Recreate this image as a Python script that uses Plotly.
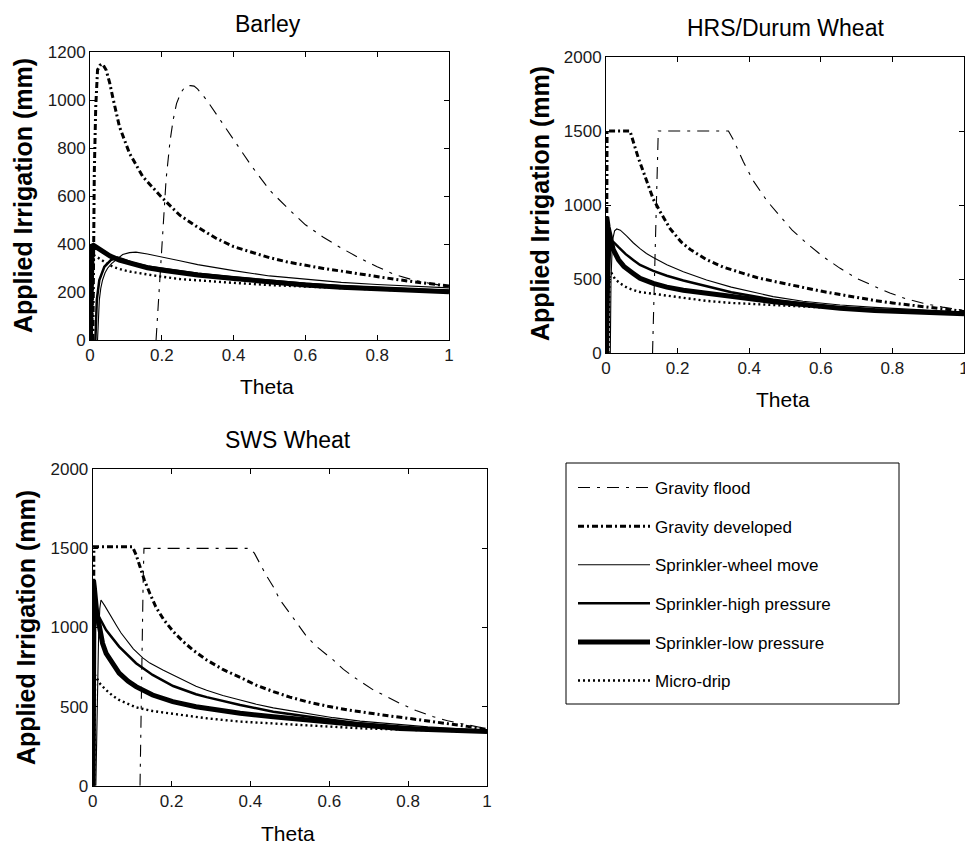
import plotly.graph_objects as go

# ---------------- Barley ----------------
barley_flood_theta = [0.184, 0.19, 0.195, 0.203, 0.212, 0.223, 0.232, 0.241, 0.253, 0.265, 0.28, 0.29, 0.30,
                      0.325, 0.36, 0.40, 0.45, 0.50, 0.55, 0.60, 0.65, 0.70, 0.75, 0.80, 0.85, 0.90, 0.95, 1.00]
barley_flood_irr = [0, 140, 280, 480, 670, 830, 920, 985, 1030, 1056, 1060, 1058, 1045,
                    1000, 925, 835, 725, 625, 550, 480, 428, 383, 342, 305, 272, 250, 235, 222]

barley_dev_theta = [0.008, 0.009, 0.010, 0.012, 0.016, 0.021, 0.028, 0.035, 0.045, 0.055, 0.063, 0.082, 0.11,
                    0.147, 0.198, 0.25, 0.3, 0.35, 0.4, 0.45, 0.5, 0.55, 0.6, 0.65, 0.7, 0.75, 0.8, 0.85, 0.9,
                    0.95, 1.0]
barley_dev_irr = [0, 200, 400, 700, 972, 1125, 1145, 1150, 1125, 1070, 1014, 889, 778,
                  681, 597, 520, 470, 425, 389, 365, 343, 325, 310, 298, 287, 275, 264, 253, 243,
                  234, 225]

barley_wheel_theta = [0.021, 0.026, 0.03, 0.035, 0.042, 0.049, 0.06, 0.072, 0.091, 0.11, 0.128, 0.16, 0.198,
                      0.25, 0.3, 0.35, 0.4, 0.5, 0.6, 0.7, 0.8, 0.9, 1.0]
barley_wheel_irr = [0, 167, 215, 250, 280, 299, 318, 333, 356, 364, 366, 358, 347,
                    330, 314, 301, 289, 267, 252, 240, 231, 223, 217]

barley_high_theta = [0.015, 0.019, 0.026, 0.04, 0.058, 0.077, 0.095, 0.12, 0.16, 0.2, 0.3, 0.4, 0.5, 0.6,
                     0.7, 0.8, 0.9, 1.0]
barley_high_irr = [0, 167, 250, 305, 333, 343, 335, 320, 306, 297, 276, 260, 246, 234,
                   224, 216, 210, 205]

barley_low_theta = [0.001, 0.003, 0.006, 0.012, 0.02, 0.035, 0.056, 0.082, 0.11, 0.128, 0.16, 0.198, 0.25,
                    0.3, 0.4, 0.5, 0.6, 0.7, 0.8, 0.9, 1.0]
barley_low_irr = [0, 398, 398, 392, 384, 368, 350, 333, 320, 312, 301, 292, 281,
                  271, 256, 241, 229, 220, 212, 206, 201]

barley_drip_theta = [0.005, 0.007, 0.01, 0.015, 0.026, 0.04, 0.054, 0.07, 0.091, 0.115, 0.137, 0.165, 0.198,
                     0.25, 0.3, 0.4, 0.5, 0.6, 0.7, 0.8, 0.9, 1.0]
barley_drip_irr = [0, 200, 354, 350, 340, 325, 312, 302, 292, 284, 278, 270, 264,
                   254, 248, 238, 229, 222, 216, 210, 205, 199]

# ---------------- HRS / Durum wheat ----------------
hrs_flood_theta = [0.130, 0.134, 0.138, 0.142, 0.146, 0.2, 0.25, 0.3, 0.342, 0.356, 0.384, 0.411, 0.449,
                   0.486, 0.52, 0.561, 0.607, 0.654, 0.7, 0.75, 0.793, 0.84, 0.886, 0.94, 1.0]
hrs_flood_irr = [0, 400, 900, 1300, 1500, 1500, 1500, 1500, 1500, 1440, 1290, 1165, 1030,
                 925, 830, 740, 650, 572, 505, 450, 405, 365, 336, 310, 288]

hrs_dev_theta = [0.001, 0.003, 0.067, 0.09, 0.114, 0.132, 0.15, 0.179, 0.21, 0.235, 0.281, 0.328, 0.374,
                 0.421, 0.467, 0.514, 0.561, 0.607, 0.654, 0.7, 0.75, 0.8, 0.85, 0.9, 0.95, 1.0]
hrs_dev_irr = [0, 1500, 1500, 1320, 1160, 1040, 960, 840, 750, 700, 630, 580, 545,
               510, 485, 460, 440, 415, 395, 375, 355, 338, 322, 310, 295, 280]

hrs_wheel_theta = [0.012, 0.014, 0.018, 0.024, 0.03, 0.04, 0.058, 0.076, 0.095, 0.113, 0.132, 0.17, 0.216,
                   0.281, 0.35, 0.421, 0.467, 0.55, 0.654, 0.75, 0.85, 0.93, 1.0]
hrs_wheel_irr = [0, 500, 760, 825, 838, 830, 790, 745, 705, 672, 645, 597, 549,
                 493, 445, 405, 381, 350, 324, 308, 295, 285, 276]

hrs_high_theta = [0.005, 0.008, 0.012, 0.02, 0.035, 0.055, 0.076, 0.095, 0.132, 0.17, 0.216, 0.281, 0.35,
                  0.421, 0.467, 0.55, 0.654, 0.75, 0.85, 1.0]
hrs_high_irr = [0, 500, 760, 752, 715, 668, 628, 595, 555, 522, 490, 450, 410,
                380, 360, 335, 305, 292, 281, 268]

hrs_low_theta = [0.0, 0.002, 0.006, 0.012, 0.02, 0.035, 0.05, 0.076, 0.095, 0.132, 0.17, 0.216, 0.281,
                 0.35, 0.421, 0.467, 0.55, 0.654, 0.75, 0.85, 0.93, 1.0]
hrs_low_irr = [0, 920, 850, 770, 700, 630, 585, 538, 505, 470, 445, 424, 403,
               380, 358, 347, 328, 302, 288, 278, 272, 266]

hrs_drip_theta = [0.007, 0.010, 0.016, 0.025, 0.039, 0.06, 0.076, 0.095, 0.132, 0.17, 0.216, 0.281, 0.35,
                  0.467, 0.55, 0.654, 0.75, 0.85, 1.0]
hrs_drip_irr = [0, 530, 538, 500, 471, 440, 426, 412, 400, 388, 375, 352, 338,
                324, 315, 302, 290, 280, 262]

# ---------------- SWS wheat ----------------
sws_flood_theta = [0.120, 0.122, 0.125, 0.128, 0.130, 0.2, 0.3, 0.399, 0.41, 0.424, 0.44, 0.458, 0.475,
                   0.5, 0.543, 0.568, 0.61, 0.636, 0.661, 0.712, 0.75, 0.779, 0.82, 0.864, 0.9, 0.932,
                   0.97, 1.0]
sws_flood_irr = [0, 400, 900, 1300, 1500, 1500, 1500, 1500, 1470, 1406, 1330, 1258, 1174,
                 1090, 942, 879, 795, 735, 689, 605, 555, 521, 475, 436, 410, 394,
                 375, 360]

sws_dev_theta = [0.001, 0.003, 0.101, 0.11, 0.12, 0.131, 0.145, 0.16, 0.18, 0.204, 0.23, 0.254, 0.289,
                 0.33, 0.374, 0.415, 0.458, 0.5, 0.543, 0.6, 0.65, 0.7, 0.75, 0.8, 0.85, 0.9, 0.95, 1.0]
sws_dev_irr = [0, 1510, 1510, 1460, 1384, 1300, 1215, 1131, 1050, 975, 910, 858, 795,
               735, 685, 635, 595, 560, 531, 500, 478, 458, 442, 426, 410, 392, 375, 355]

sws_wheel_theta = [0.008, 0.012, 0.015, 0.018, 0.021, 0.03, 0.04, 0.051, 0.061, 0.072, 0.084, 0.103, 0.127,
                   0.145, 0.178, 0.204, 0.237, 0.262, 0.289, 0.33, 0.374, 0.415, 0.458, 0.5, 0.543, 0.61,
                   0.678, 0.75, 0.85, 0.93, 1.0]
sws_wheel_irr = [0, 680, 950, 1120, 1174, 1140, 1095, 1050, 1010, 965, 925, 865, 808,
                 775, 731, 700, 658, 628, 603, 570, 542, 515, 492, 474, 458, 430,
                 408, 392, 372, 360, 352]

sws_high_theta = [0.004, 0.006, 0.01, 0.016, 0.034, 0.067, 0.11, 0.152, 0.204, 0.262, 0.289, 0.374, 0.458,
                  0.543, 0.61, 0.678, 0.779, 0.85, 0.93, 1.0]
sws_high_irr = [0, 1000, 1080, 1068, 984, 879, 774, 700, 630, 578, 560, 510, 468,
                436, 415, 394, 373, 360, 350, 342]

sws_low_theta = [0.0, 0.002, 0.004, 0.01, 0.017, 0.025, 0.034, 0.05, 0.067, 0.09, 0.11, 0.152, 0.203,
                 0.262, 0.289, 0.374, 0.458, 0.543, 0.61, 0.678, 0.779, 0.85, 0.93, 1.0]
sws_low_irr = [0, 1300, 1258, 1100, 984, 900, 837, 770, 712, 660, 626, 573, 531,
               499, 489, 458, 436, 415, 400, 384, 362, 355, 348, 342]

sws_drip_theta = [0.004, 0.006, 0.008, 0.02, 0.034, 0.05, 0.067, 0.09, 0.11, 0.152, 0.204, 0.262, 0.289,
                  0.374, 0.458, 0.543, 0.61, 0.678, 0.779, 0.85, 0.93, 1.0]
sws_drip_irr = [0, 700, 689, 640, 605, 570, 542, 515, 495, 472, 456, 438, 426,
                405, 394, 384, 375, 363, 355, 350, 345, 340]

# ---------------- series names and ticks ----------------
series_names = ["Gravity flood", "Gravity developed", "Sprinkler-wheel move",
                "Sprinkler-high pressure", "Sprinkler-low pressure", "Micro-drip"]
panel_titles = ["Barley", "HRS/Durum Wheat", "SWS Wheat"]
theta_ticks = [0, 0.2, 0.4, 0.6, 0.8, 1]
barley_irr_ticks = [0, 200, 400, 600, 800, 1000, 1200]
wheat_irr_ticks = [0, 500, 1000, 1500, 2000]

# line styles, one per irrigation system
styles = [
    dict(width=1.1, dash="12px,7px,3px,7px"),
    dict(width=3.0, dash="6px,3px,2px,3px"),
    dict(width=1.1, dash="solid"),
    dict(width=2.5, dash="solid"),
    dict(width=5.0, dash="solid"),
    dict(width=2.4, dash="2px,3px"),
]

panels = [
    ("x", "y", [(barley_flood_theta, barley_flood_irr), (barley_dev_theta, barley_dev_irr),
                (barley_wheel_theta, barley_wheel_irr), (barley_high_theta, barley_high_irr),
                (barley_low_theta, barley_low_irr), (barley_drip_theta, barley_drip_irr)]),
    ("x2", "y2", [(hrs_flood_theta, hrs_flood_irr), (hrs_dev_theta, hrs_dev_irr),
                  (hrs_wheel_theta, hrs_wheel_irr), (hrs_high_theta, hrs_high_irr),
                  (hrs_low_theta, hrs_low_irr), (hrs_drip_theta, hrs_drip_irr)]),
    ("x3", "y3", [(sws_flood_theta, sws_flood_irr), (sws_dev_theta, sws_dev_irr),
                  (sws_wheel_theta, sws_wheel_irr), (sws_high_theta, sws_high_irr),
                  (sws_low_theta, sws_low_irr), (sws_drip_theta, sws_drip_irr)]),
]

W, H = 965, 851
FONT = "Liberation Sans, Arial, sans-serif"

fig = go.Figure()
for p, (xa, ya, curves) in enumerate(panels):
    # draw the thin lines last so they stay visible on top of the heavy ones
    for i in [4, 3, 1, 5, 0, 2]:
        th, irr = curves[i]
        fig.add_trace(go.Scatter(
            x=th, y=irr, xaxis=xa, yaxis=ya, mode="lines",
            name=series_names[i], legendgroup=series_names[i], legendrank=i + 1,
            showlegend=(p == 0),
            line=dict(color="black", width=styles[i]["width"], dash=styles[i]["dash"]),
            hoverinfo="skip",
        ))


def px_x(v):
    return v / W


def px_y(v):
    return 1 - v / H


axis_common = dict(showline=True, linecolor="black", linewidth=1, mirror="allticks",
                   ticks="inside", ticklen=5, tickcolor="black", showgrid=False, zeroline=False,
                   automargin=False, tickfont=dict(family=FONT, size=17, color="#1a1a1a"))

boxes = [
    (90, 449, 52, 340, [0, 1200], barley_irr_ticks),
    (606, 964, 57, 353, [0, 2000], wheat_irr_ticks),
    (92.7, 487, 469.3, 785.7, [0, 2000], wheat_irr_ticks),
]
layout_axes = {}
for k, (l, r, t, b, yr, yt) in enumerate(boxes):
    sfx = "" if k == 0 else str(k + 1)
    layout_axes["xaxis" + sfx] = dict(axis_common, domain=[px_x(l), px_x(r)], range=[0, 1],
                                      tickvals=theta_ticks, anchor="y" + sfx,
                                      ticklabeloverflow="allow")
    layout_axes["yaxis" + sfx] = dict(axis_common, domain=[px_y(b), px_y(t)], range=yr,
                                      tickvals=yt, anchor="x" + sfx)

annotations = []
title_pos = [(268, 24), (785, 28), (288, 440)]
ylabel_pos = [(23, 196), (540, 204), (26, 628)]
xlabel_pos = [(267, 387), (783, 399), (288, 833)]
for k in range(3):
    annotations.append(dict(text=panel_titles[k], x=px_x(title_pos[k][0]), y=px_y(title_pos[k][1]),
                            xref="paper", yref="paper", showarrow=False, xanchor="center", yanchor="middle",
                            font=dict(family=FONT, size=23, color="black")))
    annotations.append(dict(text="Applied Irrigation (mm)", x=px_x(ylabel_pos[k][0]), y=px_y(ylabel_pos[k][1]),
                            xref="paper", yref="paper", showarrow=False, textangle=-90,
                            xanchor="center", yanchor="middle",
                            font=dict(family=FONT, size=25, color="black", weight="bold")))
    annotations.append(dict(text="Theta", x=px_x(xlabel_pos[k][0]), y=px_y(xlabel_pos[k][1]),
                            xref="paper", yref="paper", showarrow=False, xanchor="center", yanchor="middle",
                            font=dict(family=FONT, size=21, color="black")))

fig.update_layout(
    template="none",
    width=W, height=H,
    margin=dict(l=0, r=0, t=0, b=0, autoexpand=False),
    paper_bgcolor="white", plot_bgcolor="white",
    showlegend=True,
    legend=dict(x=px_x(573), y=px_y(470), xanchor="left", yanchor="top", itemwidth=72,
                bgcolor="rgba(0,0,0,0)", borderwidth=0, tracegroupgap=13.5,
                font=dict(family=FONT, size=17, color="black")),
    shapes=[dict(type="rect", xref="paper", yref="paper",
                 x0=px_x(566), x1=px_x(899), y0=px_y(704), y1=px_y(463),
                 line=dict(color="black", width=1))],
    annotations=annotations,
    **layout_axes,
)

fig.write_html("out.html")
